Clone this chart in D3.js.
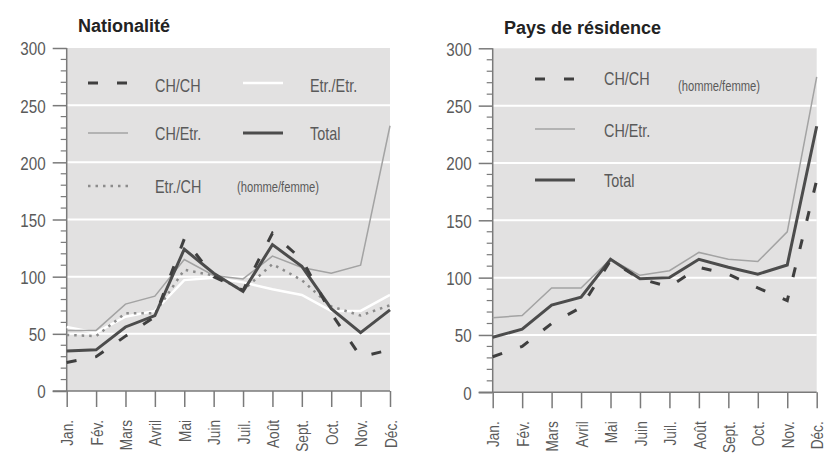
<!DOCTYPE html>
<html><head><meta charset="utf-8">
<script src="https://cdn.jsdelivr.net/npm/d3@7"></script>
<style>
body{margin:0;background:#fff;}
svg{display:block;}
</style></head>
<body>
<svg id="chart" width="832" height="455"></svg>
<script>
const months = ["Jan.","Fév.","Mars","Avril","Mai","Juin","Juil.","Août","Sept.","Oct.","Nov.","Déc."];
const yTicks = [0,50,100,150,200,250,300];

// Nationalité
const natCHCH   = [25,30,48,65,133,100,88,138,115,68,30,36];
const natCHEtr  = [53,53,76,83,115,101,98,118,108,103,110,232];
const natEtrCH  = [49,48,68,68,106,101,88,111,97,74,66,75];
const natEtrEtr = [56,51,65,70,97,99,95,89,84,70,70,84];
const natTotal  = [35,36,56,66,124,103,87,128,109,72,51,71];

// Pays de résidence
const resCHCH   = [31,40,60,74,115,99,92,109,103,91,80,185];
const resCHEtr  = [65,67,91,91,116,102,106,122,116,114,140,275];
const resTotal  = [48,55,76,83,116,99,100,116,109,103,111,232];

const NARROW = "'Liberation Sans Narrow','Arial Narrow','Liberation Sans',sans-serif";
const SQ = 0.8; // horizontal condensing factor for the condensed look
const styles = {
  CHCH:   {stroke:"#3f3f3f", width:3,   dash:"10,19"},
  CHEtr:  {stroke:"#a3a3a3", width:1.5, dash:null},
  EtrCH:  {stroke:"#8c8c8c", width:2.5, dash:"2.5,5"},
  EtrEtr: {stroke:"#ffffff", width:2.5, dash:null},
  Total:  {stroke:"#4c4c4c", width:3,   dash:null}
};

const svg = d3.select("#chart");

function narrow(sel, x, y, fs, anchor){
  sel.attr("x", 0).attr("y", 0)
    .attr("transform", `translate(${x},${y}) scale(${SQ},1)`)
    .attr("font-family", NARROW).attr("font-size", fs)
    .attr("fill", "#5a5a5a").attr("text-anchor", anchor || "start");
  return sel;
}

function panel(cfg){
  const g = svg.append("g");
  const x = d3.scalePoint().domain(months).range([cfg.x0, cfg.x1]);
  const y = d3.scaleLinear().domain([0,300]).range([cfg.yb, cfg.yt]);

  // background
  g.append("rect").attr("x", cfg.x0).attr("y", y(300))
    .attr("width", cfg.x1 - cfg.x0).attr("height", y(0) - y(300))
    .attr("fill", "#e2e1e1");
  // white grid lines
  g.selectAll(".grid").data([50,100,150,200,250]).enter().append("line")
    .attr("x1", cfg.x0).attr("x2", cfg.x1)
    .attr("y1", d => y(d)).attr("y2", d => y(d))
    .attr("stroke", "#fff").attr("stroke-width", 2);

  // y axis
  const yAxis = d3.axisLeft(y).tickValues(yTicks).tickSize(14).tickPadding(7);
  const ya = g.append("g").attr("transform", `translate(${cfg.x0},0)`).call(yAxis);
  ya.select(".domain").remove();
  ya.selectAll(".tick line").attr("stroke", "#7a7a7a").attr("stroke-width", 1.5);
  ya.selectAll(".tick text").each(function(){
    narrow(d3.select(this), -21, 0, 19, "end").attr("dy", "0.36em");
  });
  // minor ticks
  g.selectAll(".minor").data(d3.range(0, 301, 10).filter(v => v % 50 !== 0)).enter()
    .append("line").attr("x1", cfg.x0 - 6).attr("x2", cfg.x0)
    .attr("y1", d => y(d)).attr("y2", d => y(d))
    .attr("stroke", "#7a7a7a").attr("stroke-width", 1.2);
  g.append("line").attr("x1", cfg.x0).attr("x2", cfg.x0)
    .attr("y1", y(0)).attr("y2", y(300)).attr("stroke", "#7a7a7a").attr("stroke-width", 1.5);

  // x axis
  const xAxis = d3.axisBottom(x).tickSize(16).tickPadding(12);
  const xa = g.append("g").attr("transform", `translate(0,${y(0)})`).call(xAxis);
  xa.select(".domain").remove();
  xa.selectAll(".tick line").attr("stroke", "#7a7a7a").attr("stroke-width", 1.5);
  xa.selectAll(".tick text")
    .attr("font-family", NARROW).attr("font-size", 17).attr("fill", "#5a5a5a")
    .attr("x", 0).attr("y", 0).attr("dy", "0.36em")
    .attr("text-anchor", "end")
    .attr("transform", `rotate(-90) translate(-29,0) scale(${SQ},1)`);
  g.append("line").attr("x1", cfg.x0 - 14).attr("x2", cfg.x1)
    .attr("y1", y(0)).attr("y2", y(0)).attr("stroke", "#7a7a7a").attr("stroke-width", 1.5);

  // title
  g.append("text").attr("x", cfg.titleX).attr("y", cfg.titleY)
    .attr("font-family", "'Liberation Sans',Arial,sans-serif").attr("font-weight", "bold")
    .attr("font-size", 18).attr("fill", "#222").text(cfg.title);

  // legend
  cfg.legend.forEach(it => {
    if (it.key) {
      const s = styles[it.key];
      g.append("line").attr("x1", it.sx).attr("x2", it.sx + 40)
        .attr("y1", it.sy).attr("y2", it.sy)
        .attr("stroke", s.stroke).attr("stroke-width", s.width)
        .attr("stroke-dasharray", s.dash);
    }
    narrow(g.append("text").text(it.label), it.tx, it.ty, it.fs || 18);
  });

  // lines
  const line = d3.line().x((d,i) => x(months[i])).y(d => y(d));
  cfg.series.forEach(sr => {
    const s = styles[sr.key];
    g.append("path").datum(sr.values).attr("d", line)
      .attr("fill", "none").attr("stroke", s.stroke).attr("stroke-width", s.width)
      .attr("stroke-dasharray", s.dash).attr("stroke-linejoin", "miter");
  });
}

panel({
  x0: 66.7, x1: 390, yb: 391, yt: 48,
  title: "Nationalité", titleX: 78, titleY: 32,
  legend: [
    {key:"CHCH", sx:88, sy:83, tx:155, ty:92, label:"CH/CH"},
    {key:"EtrEtr", sx:243, sy:83, tx:310, ty:92, label:"Etr./Etr."},
    {key:"CHEtr", sx:88, sy:133, tx:155, ty:140, label:"CH/Etr."},
    {key:"Total", sx:243, sy:133, tx:310, ty:140, label:"Total"},
    {key:"EtrCH", sx:88, sy:186, tx:155, ty:193, label:"Etr./CH"},
    {key:null, tx:237, ty:192, fs:14, label:"(homme/femme)"}
  ],
  series: [
    {key:"EtrEtr", values:natEtrEtr},
    {key:"CHEtr", values:natCHEtr},
    {key:"EtrCH", values:natEtrCH},
    {key:"Total", values:natTotal},
    {key:"CHCH", values:natCHCH}
  ]
});

panel({
  x0: 492.7, x1: 816.7, yb: 392.3, yt: 48.3,
  title: "Pays de résidence", titleX: 504, titleY: 34,
  legend: [
    {key:"CHCH", sx:535, sy:79, tx:604, ty:85, label:"CH/CH"},
    {key:null, tx:678, ty:91, fs:14, label:"(homme/femme)"},
    {key:"CHEtr", sx:535, sy:129, tx:604, ty:137, label:"CH/Etr."},
    {key:"Total", sx:535, sy:180, tx:604, ty:187, label:"Total"}
  ],
  series: [
    {key:"CHEtr", values:resCHEtr},
    {key:"Total", values:resTotal},
    {key:"CHCH", values:resCHCH}
  ]
});
</script>
</body></html>
